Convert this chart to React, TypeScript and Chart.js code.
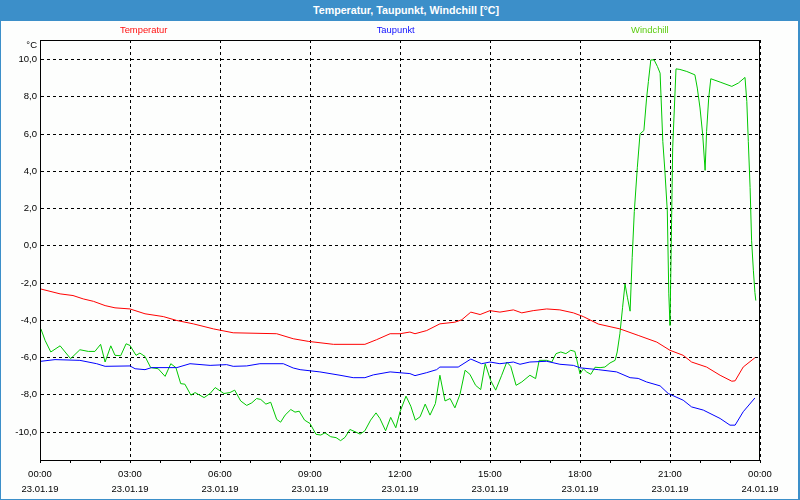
import React, { useEffect, useRef } from "react";
import { Chart, registerables } from "chart.js";

Chart.register(...registerables);

const chartTitle = "Temperatur, Taupunkt, Windchill [°C]";
const unitLabel = "°C";
const seriesNames = ["Temperatur", "Taupunkt", "Windchill"];
const seriesColors = ["#ff0000", "#0000ff", "#00c800"];
const legendTextColors = ["#ff1010", "#1010ff", "#5ccc10"];

const temperatureHours = [0.03, 0.67, 1.1, 1.44, 1.78, 2.17, 2.5, 3.0, 3.5, 4.11, 4.56, 5.11, 5.78, 6.44, 7.89, 8.44, 8.94, 9.78, 10.83, 11.22, 11.67, 12.0, 12.33, 12.5, 12.89, 13.33, 13.83, 14.06, 14.36, 14.67, 15.0, 15.33, 15.78, 16.06, 16.44, 16.89, 17.33, 17.78, 18.11, 18.61, 19.33, 19.94, 20.56, 21.0, 21.44, 21.72, 22.22, 22.67, 23.06, 23.17, 23.44, 23.83];
const temperatureValues = [-2.32, -2.58, -2.67, -2.85, -2.98, -3.21, -3.33, -3.39, -3.65, -3.8, -4.01, -4.19, -4.46, -4.67, -4.72, -4.99, -5.13, -5.29, -5.29, -5.04, -4.72, -4.72, -4.63, -4.72, -4.55, -4.19, -4.1, -3.97, -3.56, -3.69, -3.48, -3.56, -3.44, -3.6, -3.48, -3.39, -3.44, -3.6, -3.8, -4.2, -4.46, -4.81, -5.17, -5.61, -5.88, -6.24, -6.51, -6.95, -7.27, -7.25, -6.51, -6.01];

const dewPointHours = [0.03, 0.5, 1.33, 1.89, 2.17, 3.0, 3.17, 3.5, 3.72, 4.56, 5.0, 5.67, 6.22, 6.44, 6.89, 7.33, 8.11, 8.44, 8.67, 9.33, 10.0, 10.44, 10.83, 11.11, 11.67, 12.33, 12.5, 12.89, 13.22, 13.33, 13.94, 14.36, 14.72, 15.0, 15.33, 15.78, 16.0, 16.33, 16.89, 17.33, 17.78, 18.0, 18.61, 19.22, 19.67, 19.94, 20.22, 20.67, 20.94, 21.44, 21.72, 22.11, 22.67, 23.0, 23.17, 23.44, 23.83];
const dewPointValues = [-6.2, -6.11, -6.15, -6.33, -6.47, -6.45, -6.6, -6.65, -6.54, -6.54, -6.33, -6.42, -6.38, -6.47, -6.45, -6.33, -6.33, -6.56, -6.65, -6.77, -6.95, -7.08, -7.08, -6.93, -6.77, -6.86, -6.97, -6.81, -6.65, -6.51, -6.51, -6.08, -6.33, -6.24, -6.33, -6.24, -6.36, -6.24, -6.2, -6.36, -6.42, -6.55, -6.65, -6.77, -7.08, -7.12, -7.31, -7.52, -7.93, -8.29, -8.65, -8.82, -9.27, -9.63, -9.63, -8.91, -8.17];

const windchillHours = [0.03, 0.17, 0.36, 0.67, 1.02, 1.33, 1.61, 1.83, 2.02, 2.17, 2.36, 2.5, 2.69, 2.87, 3.0, 3.2, 3.33, 3.5, 3.69, 3.94, 4.17, 4.36, 4.53, 4.69, 4.83, 5.03, 5.17, 5.47, 5.67, 5.84, 6.13, 6.33, 6.49, 6.69, 6.89, 7.06, 7.22, 7.36, 7.53, 7.69, 7.89, 8.02, 8.17, 8.36, 8.5, 8.64, 8.82, 9.0, 9.2, 9.36, 9.5, 9.69, 9.87, 10.02, 10.17, 10.33, 10.5, 10.67, 10.83, 11.02, 11.2, 11.33, 11.52, 11.69, 11.86, 12.0, 12.2, 12.36, 12.51, 12.67, 12.84, 13.0, 13.18, 13.33, 13.5, 13.67, 13.83, 14.0, 14.17, 14.33, 14.52, 14.69, 14.84, 15.02, 15.19, 15.39, 15.56, 15.69, 15.87, 16.06, 16.33, 16.52, 16.64, 16.89, 17.06, 17.2, 17.36, 17.53, 17.69, 17.83, 18.0, 18.11, 18.22, 18.36, 18.5, 18.67, 18.83, 19.0, 19.17, 19.24, 19.33, 19.42, 19.5, 19.58, 19.67, 19.74, 19.81, 19.91, 20.0, 20.13, 20.22, 20.28, 20.36, 20.47, 20.58, 20.67, 20.76, 20.83, 20.91, 20.96, 21.0, 21.04, 21.09, 21.2, 21.33, 21.56, 21.83, 21.91, 22.0, 22.09, 22.17, 22.22, 22.29, 22.36, 22.67, 23.06, 23.28, 23.5, 23.56, 23.61, 23.67, 23.72, 23.78, 23.83, 23.86];
const windchillValues = [-4.46, -5.08, -5.7, -5.37, -6.06, -5.58, -5.67, -5.67, -5.29, -6.24, -5.37, -5.88, -5.9, -5.26, -5.35, -5.88, -5.76, -5.94, -6.54, -6.6, -7.01, -6.33, -6.54, -7.4, -7.43, -8.02, -7.88, -8.15, -7.93, -7.61, -7.93, -7.88, -7.75, -8.33, -8.57, -8.43, -8.2, -8.25, -8.5, -8.4, -9.32, -9.47, -9.09, -8.79, -8.93, -8.88, -9.36, -9.54, -10.12, -10.16, -10.04, -10.25, -10.3, -10.46, -10.28, -9.86, -9.98, -10.11, -9.93, -9.36, -8.97, -9.27, -9.93, -9.21, -9.77, -8.91, -8.07, -8.61, -9.36, -9.18, -8.5, -9.09, -8.47, -6.95, -8.33, -8.2, -8.7, -7.97, -6.68, -6.9, -7.49, -7.72, -6.33, -7.22, -7.75, -6.95, -6.24, -6.47, -7.49, -7.31, -6.95, -7.13, -6.15, -6.15, -6.24, -5.79, -5.7, -5.79, -5.61, -5.67, -6.88, -6.6, -6.77, -6.9, -6.52, -6.54, -6.51, -6.29, -6.15, -5.7, -4.72, -3.3, -2.05, -2.76, -3.51, -0.62, 1.84, 4.19, 6.01, 6.19, 7.93, 8.82, 9.98, 9.98, 9.63, 9.27, 5.61, 4.01, 1.87, -2.58, -4.28, -0.09, 5.26, 9.5, 9.47, 9.36, 9.18, 8.47, 7.4, 5.97, 4.05, 6.15, 7.93, 8.97, 8.79, 8.56, 8.74, 9.04, 7.75, 5.61, 3.12, 0.27, -1.34, -2.5, -2.94];

const xTickHours = [0, 1, 2, 3, 4, 5, 6, 7, 8, 9, 10, 11, 12, 13, 14, 15, 16, 17, 18, 19, 20, 21, 22, 23, 24];
const xLabelHours = [0, 3, 6, 9, 12, 15, 18, 21, 24];
const xTimeLabels = ["00:00", "03:00", "06:00", "09:00", "12:00", "15:00", "18:00", "21:00", "00:00"];
const xDateLabels = ["23.01.19", "23.01.19", "23.01.19", "23.01.19", "23.01.19", "23.01.19", "23.01.19", "23.01.19", "24.01.19"];
const yTicks = [-10, -8, -6, -4, -2, 0, 2, 4, 6, 8, 10];
const yMin = -11.5;
const yMax = 11.05;
const xMin = 0;
const xMax = 24;

const FONT = '"Liberation Sans", Arial, sans-serif';

function toPoints(hours: number[], values: number[]) {
  return hours.map((h, i) => ({ x: h, y: values[i] }));
}

const overlayPlugin = {
  id: "overlay",
  afterDraw(chart: any) {
    const { ctx, chartArea: a } = chart;
    ctx.save();
    ctx.strokeStyle = "#000";
    ctx.lineWidth = 1;
    ctx.setLineDash([]);
    ctx.strokeRect(
      Math.round(a.left) + 0.5,
      Math.round(a.top) + 0.5,
      Math.round(a.right - a.left) - 1,
      Math.round(a.bottom - a.top)
    );
    ctx.font = `9.5px ${FONT}`;
    ctx.fillStyle = "#000";
    ctx.textAlign = "right";
    ctx.textBaseline = "middle";
    ctx.fillText(unitLabel, a.left - 3, a.top + 5);
    const w = a.right - a.left;
    const legendX = [a.left + w * 0.144, a.left + w * 0.494, a.left + w * 0.847];
    ctx.font = `9.4px ${FONT}`;
    ctx.textAlign = "center";
    seriesNames.forEach((name, i) => {
      ctx.fillStyle = legendTextColors[i];
      ctx.fillText(name, legendX[i], a.top - 10);
    });
    ctx.restore();
  },
};

export default function App() {
  const canvasRef = useRef<HTMLCanvasElement | null>(null);

  useEffect(() => {
    document.body.style.margin = "0";
    const canvas = canvasRef.current;
    if (!canvas) return;
    const series = [
      toPoints(temperatureHours, temperatureValues),
      toPoints(dewPointHours, dewPointValues),
      toPoints(windchillHours, windchillValues),
    ];
    const chart = new Chart(canvas, {
      type: "line",
      data: {
        datasets: series.map((pts, i) => ({
          label: seriesNames[i],
          data: pts,
          borderColor: seriesColors[i],
          backgroundColor: seriesColors[i],
          borderWidth: 1,
          pointRadius: 0,
          tension: 0,
          fill: false,
        })),
      },
      options: {
        responsive: false,
        animation: false,
        devicePixelRatio: 1,
        parsing: false,
        layout: { padding: { top: 40, right: 40, left: 0, bottom: 0 } },
        plugins: {
          legend: { display: false },
          tooltip: { enabled: false },
          title: { display: false },
        },
        scales: {
          x: {
            type: "linear",
            min: xMin,
            max: xMax,
            afterBuildTicks: (scale: any) => {
              scale.ticks = xTickHours.map((v) => ({ value: v }));
            },
            afterFit: (scale: any) => {
              scale.height = 40;
            },
            ticks: {
              autoSkip: false,
              maxRotation: 0,
              minRotation: 0,
              padding: 4,
              color: "#000",
              font: { family: FONT, size: 9.5, lineHeight: "15px" },
              callback: (value: any) => {
                const idx = xLabelHours.indexOf(Number(value));
                return idx >= 0 ? [xTimeLabels[idx], xDateLabels[idx]] : "";
              },
            },
            grid: {
              color: (c: any) =>
                c.tick && Number(c.tick.value) % 3 === 0 ? "#000" : "rgba(0,0,0,0)",
              tickColor: "#000",
              tickLength: 3,
              lineWidth: 1,
              drawTicks: true,
            },
            border: { display: true, color: "#000", dash: [3, 3] },
          },
          y: {
            type: "linear",
            min: yMin,
            max: yMax,
            afterBuildTicks: (scale: any) => {
              scale.ticks = yTicks.map((v) => ({ value: v }));
            },
            afterFit: (scale: any) => {
              scale.width = 40;
            },
            ticks: {
              padding: 3,
              color: "#000",
              font: { family: FONT, size: 9.5 },
              callback: (value: any) => Number(value).toFixed(1).replace(".", ","),
            },
            grid: {
              color: "#000",
              drawTicks: false,
              lineWidth: 1,
            },
            border: { display: true, color: "#000", dash: [3, 3] },
          },
        },
      },
      plugins: [overlayPlugin],
    });
    return () => chart.destroy();
  }, []);

  return (
    <div
      style={{
        position: "relative",
        width: 800,
        height: 500,
        background: "#fdfefd",
        overflow: "hidden",
      }}
    >
      <div
        style={{
          position: "absolute",
          left: 0,
          top: 0,
          width: 800,
          height: 21,
          background: "#3c8fc9",
          color: "#fff",
          fontFamily: FONT,
          fontWeight: "bold",
          fontSize: "10.7px",
          lineHeight: "20px",
          textAlign: "center",
          paddingLeft: 12,
          boxSizing: "border-box",
        }}
      >
        {chartTitle}
      </div>
      <div
        style={{
          position: "absolute",
          left: 0,
          top: 0,
          width: 800,
          height: 500,
          boxSizing: "border-box",
          borderLeft: "1px solid #3c8fc9",
          borderRight: "2px solid #3c8fc9",
          borderBottom: "1px solid #3c8fc9",
        }}
      />
      <canvas
        ref={canvasRef}
        width={800}
        height={500}
        style={{ position: "absolute", left: 0, top: 0, width: 800, height: 500 }}
      />
    </div>
  );
}
